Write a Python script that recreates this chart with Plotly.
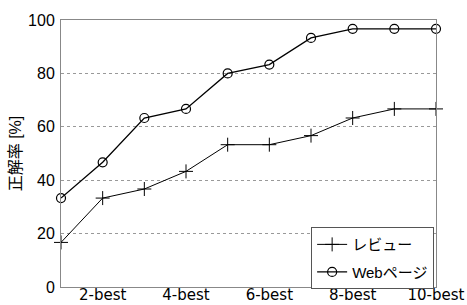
import plotly.graph_objects as go

x_vals = [1, 2, 3, 4, 5, 6, 7, 8, 9, 10]
review = [16.7, 33.3, 36.7, 43.3, 53.3, 53.3, 56.7, 63.3, 66.7, 66.7]
web = [33.3, 46.7, 63.3, 66.7, 80.0, 83.3, 93.3, 96.7, 96.7, 96.7]
x_tick_vals = [2, 4, 6, 8, 10]
x_tick_text = ["2-best", "4-best", "6-best", "8-best", "10-best"]
y_tick_vals = [0, 20, 40, 60, 80, 100]

fig = go.Figure()
fig.add_trace(go.Scatter(
    x=x_vals, y=review, name="レビュー", mode="lines+markers",
    legendgroup="a",
    line=dict(color="black", width=1),
    marker=dict(symbol="cross-thin-open", size=10, color="black",
                line=dict(color="black", width=1)),
    cliponaxis=False,
))
fig.add_trace(go.Scatter(
    x=x_vals, y=web, name="Webページ", mode="lines+markers",
    legendgroup="b",
    line=dict(color="black", width=1.3),
    marker=dict(symbol="circle-open", size=9, color="black",
                line=dict(color="black", width=1.2)),
    cliponaxis=False,
))

fig.update_layout(
    width=467, height=305,
    margin=dict(l=61, r=31, t=20, b=18, autoexpand=False),
    paper_bgcolor="white", plot_bgcolor="white",
    font=dict(family="Liberation Sans, Noto Sans CJK JP", size=16, color="black"),
    showlegend=True,
    legend=dict(x=0.995, y=-0.008, xanchor="right", yanchor="bottom",
                bgcolor="white", bordercolor="#555", borderwidth=1,
                font=dict(size=15), tracegroupgap=5, itemwidth=30,
                traceorder="grouped"),
)
fig.update_xaxes(
    range=[1, 10], tickvals=x_tick_vals, ticktext=x_tick_text,
    showgrid=False, zeroline=False, showline=True, mirror=True,
    linecolor="#888", linewidth=1, ticks="", ticklabelstandoff=-6,
    tickfont=dict(family="DejaVu Sans", size=15),
    automargin=False,
)
fig.update_yaxes(
    range=[0, 100], tickvals=y_tick_vals,
    showgrid=True, gridcolor="#999", griddash="dot", gridwidth=1,
    zeroline=False, showline=True, mirror=True,
    linecolor="#888", linewidth=1, ticks="", ticklabelstandoff=2,
    title=dict(text="正解率 [%]", standoff=2, font=dict(size=16)),
    automargin=False,
)

fig.write_html(
    "out.html",
    config={"displayModeBar": False},
    post_script="document.body.style.margin='0';document.body.style.overflow='hidden';",
)
